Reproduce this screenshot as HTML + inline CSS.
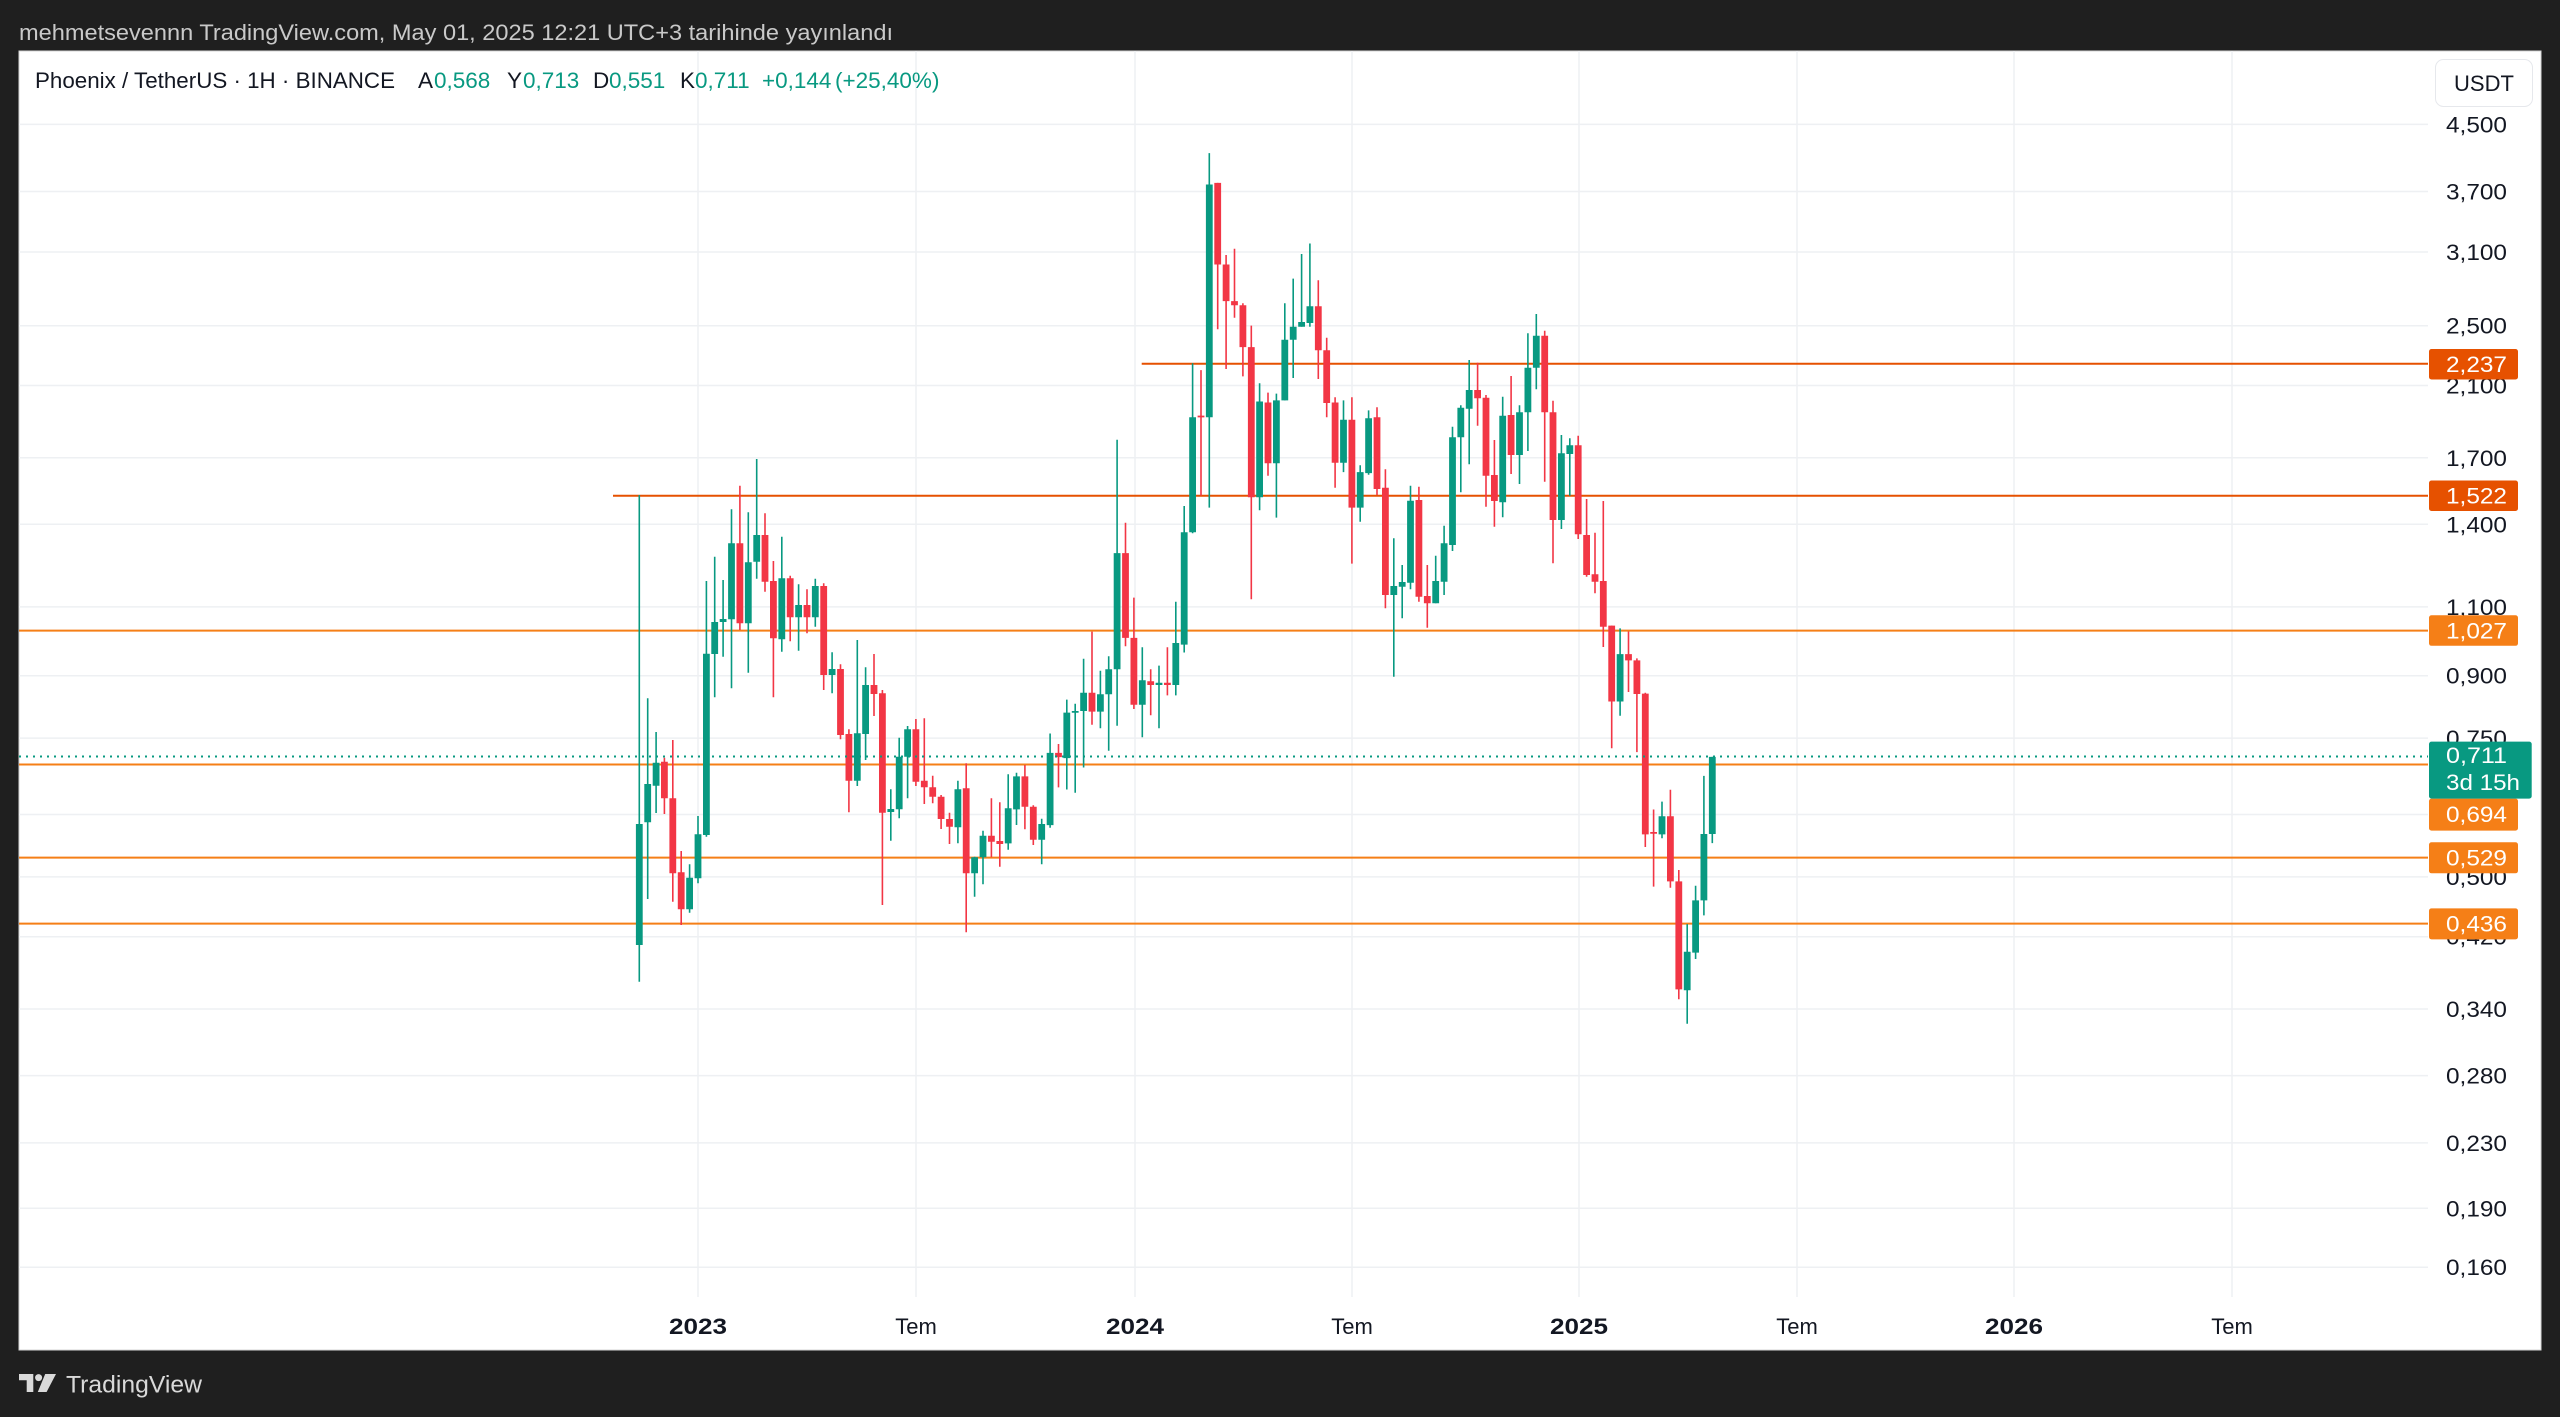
<!DOCTYPE html>
<html><head><meta charset="utf-8"><style>
html,body{margin:0;padding:0;background:#1f1f1f;}
svg{display:block;}
text{font-family:"Liberation Sans",sans-serif;}
</style></head><body>
<svg width="2560" height="1417" viewBox="0 0 2560 1417" xmlns="http://www.w3.org/2000/svg">
<rect width="2560" height="1417" fill="#1f1f1f"/>
<text x="19" y="40" font-size="22" fill="#c9c9c9" textLength="874" lengthAdjust="spacingAndGlyphs">mehmetsevennn TradingView.com, May 01, 2025 12:21 UTC+3 tarihinde yayınlandı</text>
<rect x="19" y="51" width="2522" height="1299" fill="#ffffff" stroke="#d6d6d6" stroke-width="1"/>

<!-- grid -->
<path fill="none" stroke="#eef0f3" stroke-width="1.5" d="M19 124.4H2428M19 191.5H2428M19 252H2428M19 325.7H2428M19 385.5H2428M19 457.8H2428M19 524.3H2428M19 606.9H2428M19 675.7H2428M19 738.1H2428M19 814.5H2428M19 876.9H2428M19 936.7H2428M19 1009H2428M19 1075.6H2428M19 1142.9H2428M19 1208.3H2428M19 1267.2H2428
M698 51V1297M916 51V1297M1135 51V1297M1352 51V1297M1579 51V1297M1797 51V1297M2014 51V1297M2232 51V1297"/>

<!-- title -->
<text y="88" font-size="22.5">
<tspan x="35" fill="#131722" textLength="360" lengthAdjust="spacingAndGlyphs">Phoenix / TetherUS · 1H · BINANCE</tspan>
</text>
<text y="88" font-size="22.5" fill="#131722"><tspan x="418">A</tspan><tspan x="507">Y</tspan><tspan x="593">D</tspan><tspan x="680">K</tspan></text>
<text y="88" font-size="22.5" fill="#089981"><tspan x="434">0,568</tspan><tspan x="523">0,713</tspan><tspan x="609">0,551</tspan><tspan x="695">0,711</tspan><tspan x="762">+0,144</tspan><tspan x="835">(+25,40%)</tspan></text>

<!-- horizontal levels -->
<g stroke-width="2" fill="none">
<path stroke="#E65100" d="M1141.7 363.8H2428M613 495.7H2428"/>
<path stroke="#F57F17" d="M19 630.6H2428M19 764.5H2428M19 857.6H2428M19 923.6H2428"/>
</g>

<!-- candles: green -->
<path fill="none" stroke="#089981" stroke-width="1.6" d="M639.3 495V981.7M647.7 698.3V899M656.1 732V813M689.6 864.3V912.7M698 816V883.3M706.4 581V836.7M714.7 556.7V697.3M723.1 580V656.7M731.5 509.3V688.3M748.3 512.3V672.7M756.7 459V578.7M781.8 536.7V651.7M798.6 584.3V650.7M815.3 578.7V626.7M832.1 652.3V693.3M857.3 640V786M865.6 667.3V760M890.8 789.3V840.7M899.2 737.7V818.3M907.6 726V798.3M957.9 780.7V843.3M974.6 856.7V896.7M983 830.7V884.3M1008.2 774.3V849.7M1016.5 772.8V825M1041.7 818.8V864.3M1050.1 733.5V827.7M1066.8 699.6V789.5M1075.2 703.7V792.7M1083.6 658.8V767.5M1100.4 670.8V728.3M1108.7 656.2V750.8M1117.1 439.7V725.7M1142.3 647.3V737.2M1159 665.6V728.3M1175.8 601.8V695.4M1184.2 506V652.5M1192.6 363.3V533.3M1209.3 153.1V507.6M1259.6 383.2V510.2M1276.4 393.6V517.6M1284.8 303.2V400.4M1293.2 278.6V378M1301.6 254V326.7M1309.9 243.5V326.7M1343.5 400.4V472.1M1360.2 465.3V521.8M1368.6 410.4V474.7M1393.8 538.3V676.7M1402.2 565V618.3M1410.5 485.7V589.3M1435.7 555.7V603.3M1444.1 525.7V595M1452.5 426.7V551M1460.8 405.3V492.3M1469.2 360V464.3M1502.7 396.7V517.3M1519.5 405.3V484M1527.9 333.3V451M1536.3 314V389.3M1561.4 435V529M1569.8 438.3V495.7M1620.1 628.4V715.8M1662 801.6V838.3M1687.2 924.1V1023.8M1695.6 885.8V959M1703.9 775.9V915.4M1712.3 756.9V843.1"/>
<path fill="#089981" d="M635.9 824h6.8V945h-6.8zM644.3 784h6.8V822.3h-6.8zM652.7 762.7h6.8V785.7h-6.8zM686.2 877.7h6.8V909.3h-6.8zM694.6 834.3h6.8V878.3h-6.8zM703 653.7h6.8V835h-6.8zM711.3 622h6.8V654h-6.8zM719.7 619h6.8V622h-6.8zM728.1 543.3h6.8V619.3h-6.8zM744.9 562.3h6.8V623.3h-6.8zM753.3 535h6.8V561.7h-6.8zM778.4 578.3h6.8V639.3h-6.8zM795.2 605h6.8V617.3h-6.8zM811.9 586h6.8V617.3h-6.8zM828.7 669h6.8V675h-6.8zM853.9 733.3h6.8V780.7h-6.8zM862.2 685h6.8V734h-6.8zM887.4 809h6.8V812h-6.8zM895.8 756.7h6.8V809.3h-6.8zM904.2 729.3h6.8V756.7h-6.8zM954.5 789.3h6.8V827.3h-6.8zM971.2 857.3h6.8V873.3h-6.8zM979.6 835.7h6.8V857.3h-6.8zM1004.8 808.3h6.8V843.4h-6.8zM1013.1 776.4h6.8V809.4h-6.8zM1038.3 824h6.8V839.7h-6.8zM1046.7 752.9h6.8V825.1h-6.8zM1063.4 712.6h6.8V758.1h-6.8zM1071.8 711h6.8V712.8h-6.8zM1080.2 692.8h6.8V711h-6.8zM1097 694.3h6.8V711.6h-6.8zM1105.3 669.2h6.8V694.3h-6.8zM1113.7 553.1h6.8V669.2h-6.8zM1138.9 680.2h6.8V704.8h-6.8zM1155.6 682.8h6.8V685h-6.8zM1172.4 643h6.8V685h-6.8zM1180.8 532.2h6.8V644.6h-6.8zM1189.2 417.2h6.8V532.2h-6.8zM1205.9 184.5h6.8V417.2h-6.8zM1256.2 401.5h6.8V497.2h-6.8zM1273 400.4h6.8V463.2h-6.8zM1281.4 339.8h6.8V400.4h-6.8zM1289.8 326.7h6.8V339.8h-6.8zM1298.2 322h6.8V326.7h-6.8zM1306.5 306.3h6.8V323h-6.8zM1340.1 419.8h6.8V462.7h-6.8zM1356.8 472.1h6.8V507.6h-6.8zM1365.2 418.2h6.8V473.1h-6.8zM1390.4 586h6.8V595h-6.8zM1398.8 582h6.8V586.7h-6.8zM1407.1 500.7h6.8V582.7h-6.8zM1432.3 581h6.8V603.3h-6.8zM1440.7 543.3h6.8V581.7h-6.8zM1449.1 437.3h6.8V545h-6.8zM1457.4 407.7h6.8V437.3h-6.8zM1465.8 390h6.8V408.7h-6.8zM1499.3 415.7h6.8V502.3h-6.8zM1516.1 412.3h6.8V455h-6.8zM1524.5 367.7h6.8V412.3h-6.8zM1532.9 335.7h6.8V367.7h-6.8zM1558 453.3h6.8V520h-6.8zM1566.4 445.3h6.8V454h-6.8zM1616.7 654.1h6.8V701.5h-6.8zM1658.6 816.2h6.8V834.4h-6.8zM1683.8 951.8h6.8V990.2h-6.8zM1692.2 900.4h6.8V952.6h-6.8zM1700.5 834h6.8V900.4h-6.8zM1708.9 756.9h6.8V834h-6.8z"/>

<!-- candles: red -->
<path fill="none" stroke="#F23645" stroke-width="1.6" d="M664.4 757.7V814M672.8 740V901.7M681.2 851V925M739.9 485.7V630M765 513.3V591.7M773.4 561V697.3M790.2 575.7V641.3M807 589.3V633.3M823.7 583.3V690M840.5 664.3V739.3M848.9 729.3V812.3M874 654V716M882.4 690V905M915.9 719V786M924.3 718.3V804M932.7 775.7V803.3M941.1 795V829M949.5 812.7V844M966.2 763.3V932.3M991.4 798.3V857.3M999.8 802.3V866.7M1024.9 765V829.3M1033.3 805.2V845M1058.5 744V787.4M1092 631.6V724.7M1125.5 522.8V646.2M1133.9 597.6V709M1150.7 669.2V715.3M1167.4 647.3V695.4M1201 370.1V495.6M1217.7 182.9V329.3M1226.1 255V369M1234.5 248.8V317.8M1242.9 303.2V376.4M1251.3 325.6V599.2M1268 392.6V475.7M1318.3 280.2V379M1326.7 337.7V417.2M1335.1 397.3V487.8M1351.9 397.3V563.6M1377 407.3V495M1385.4 469.3V608.3M1418.9 486.7V601.7M1427.3 565V627.7M1477.6 362.7V425.7M1486 395V506.7M1494.4 440V526.7M1511.1 376V474M1544.7 330.7V481.7M1553 400.7V563.3M1578.2 435.7V539M1586.6 499V576.7M1595 532.7V593.3M1603.3 501V647M1611.7 625.6V748.2M1628.5 631.5V692M1636.9 658.4V752.1M1645.3 692.8V847M1653.6 809.5V886.6M1670.4 789.7V887.8M1678.8 870V999.3"/>
<path fill="#F23645" d="M661 761.7h6.8V798.3h-6.8zM669.4 798.3h6.8V873.3h-6.8zM677.8 872.3h6.8V909.3h-6.8zM736.5 543.3h6.8V623.3h-6.8zM761.6 535h6.8V581.7h-6.8zM770 581h6.8V638.3h-6.8zM786.8 578.3h6.8V617.3h-6.8zM803.6 605h6.8V617.3h-6.8zM820.3 586h6.8V675h-6.8zM837.1 669h6.8V735h-6.8zM845.5 734h6.8V780.7h-6.8zM870.6 685h6.8V694h-6.8zM879 693.3h6.8V812.7h-6.8zM912.5 729.3h6.8V781.7h-6.8zM920.9 780.7h6.8V787.3h-6.8zM929.3 787.3h6.8V796.7h-6.8zM937.7 796.7h6.8V819h-6.8zM946.1 819h6.8V826.7h-6.8zM962.8 788.3h6.8V873.3h-6.8zM988 835.7h6.8V841.7h-6.8zM996.4 841h6.8V844h-6.8zM1021.5 776.4h6.8V806.8h-6.8zM1029.9 806.8h6.8V839.7h-6.8zM1055.1 752.9h6.8V757.1h-6.8zM1088.6 692.8h6.8V711.6h-6.8zM1122.1 553.1h6.8V637.9h-6.8zM1130.5 637.9h6.8V704.8h-6.8zM1147.3 681.3h6.8V685h-6.8zM1164 682.8h6.8V685h-6.8zM1197.6 415.6h6.8V417.4h-6.8zM1214.3 182.9h6.8V264.5h-6.8zM1222.7 264.5h6.8V301.1h-6.8zM1231.1 301.1h6.8V305.3h-6.8zM1239.5 305.3h6.8V347.1h-6.8zM1247.9 347.1h6.8V497.2h-6.8zM1264.6 402.5h6.8V463.2h-6.8zM1314.9 306.3h6.8V350.2h-6.8zM1323.3 350.2h6.8V403h-6.8zM1331.7 402.5h6.8V462.7h-6.8zM1348.5 419.8h6.8V507.6h-6.8zM1373.6 417.3h6.8V489h-6.8zM1382 487.7h6.8V595h-6.8zM1415.5 500h6.8V596.7h-6.8zM1423.9 596h6.8V603.3h-6.8zM1474.2 390h6.8V398.3h-6.8zM1482.6 397.7h6.8V475.7h-6.8zM1491 475h6.8V501h-6.8zM1507.7 415h6.8V455h-6.8zM1541.3 335.7h6.8V412.3h-6.8zM1549.6 412.3h6.8V520h-6.8zM1574.8 445.3h6.8V534.3h-6.8zM1583.2 535h6.8V575h-6.8zM1591.6 574.3h6.8V581.7h-6.8zM1599.9 581h6.8V626.8h-6.8zM1608.3 625.6h6.8V701.5h-6.8zM1625.1 654.1h6.8V660.4h-6.8zM1633.5 660.4h6.8V694h-6.8zM1641.9 693.6h6.8V834.4h-6.8zM1650.2 832h6.8V833.8h-6.8zM1667 816.2h6.8V881.4h-6.8zM1675.4 881.4h6.8V989.4h-6.8z"/>

<!-- current price dotted line -->
<path d="M19 756.5H2428" stroke="#089981" stroke-width="2" stroke-dasharray="2 5" fill="none"/>

<!-- time axis -->
<g font-size="22" fill="#131722" text-anchor="middle">
<text x="698" y="1334" font-weight="bold" textLength="58" lengthAdjust="spacingAndGlyphs">2023</text>
<text x="916" y="1334">Tem</text>
<text x="1135" y="1334" font-weight="bold" textLength="58" lengthAdjust="spacingAndGlyphs">2024</text>
<text x="1352" y="1334">Tem</text>
<text x="1579" y="1334" font-weight="bold" textLength="58" lengthAdjust="spacingAndGlyphs">2025</text>
<text x="1797" y="1334">Tem</text>
<text x="2014" y="1334" font-weight="bold" textLength="58" lengthAdjust="spacingAndGlyphs">2026</text>
<text x="2232" y="1334">Tem</text>
</g>

<!-- price axis -->
<g font-size="22" fill="#131722" text-anchor="end">
<text x="2507" y="132.4" textLength="61" lengthAdjust="spacingAndGlyphs">4,500</text>
<text x="2507" y="199.5" textLength="61" lengthAdjust="spacingAndGlyphs">3,700</text>
<text x="2507" y="260" textLength="61" lengthAdjust="spacingAndGlyphs">3,100</text>
<text x="2507" y="333.7" textLength="61" lengthAdjust="spacingAndGlyphs">2,500</text>
<text x="2507" y="393.5" textLength="61" lengthAdjust="spacingAndGlyphs">2,100</text>
<text x="2507" y="465.8" textLength="61" lengthAdjust="spacingAndGlyphs">1,700</text>
<text x="2507" y="532.3" textLength="61" lengthAdjust="spacingAndGlyphs">1,400</text>
<text x="2507" y="614.9" textLength="61" lengthAdjust="spacingAndGlyphs">1,100</text>
<text x="2507" y="683.7" textLength="61" lengthAdjust="spacingAndGlyphs">0,900</text>
<text x="2507" y="746.1" textLength="61" lengthAdjust="spacingAndGlyphs">0,750</text>
<text x="2507" y="822.5" textLength="61" lengthAdjust="spacingAndGlyphs">0,600</text>
<text x="2507" y="884.9" textLength="61" lengthAdjust="spacingAndGlyphs">0,500</text>
<text x="2507" y="944.7" textLength="61" lengthAdjust="spacingAndGlyphs">0,420</text>
<text x="2507" y="1017" textLength="61" lengthAdjust="spacingAndGlyphs">0,340</text>
<text x="2507" y="1083.6" textLength="61" lengthAdjust="spacingAndGlyphs">0,280</text>
<text x="2507" y="1150.9" textLength="61" lengthAdjust="spacingAndGlyphs">0,230</text>
<text x="2507" y="1216.3" textLength="61" lengthAdjust="spacingAndGlyphs">0,190</text>
<text x="2507" y="1275.2" textLength="61" lengthAdjust="spacingAndGlyphs">0,160</text>
</g>

<!-- USDT box -->
<rect x="2435.5" y="59.5" width="97" height="47" rx="8" fill="#ffffff" stroke="#e6e8ec" stroke-width="1"/>
<text x="2484" y="91" font-size="22" fill="#131722" text-anchor="middle">USDT</text>

<!-- level label boxes -->
<rect x="2429" y="349" width="89" height="30.5" rx="2.5" fill="#E65100"/>
<rect x="2429" y="480.5" width="89" height="30.5" rx="2.5" fill="#E65100"/>
<rect x="2429" y="615.3" width="89" height="30.5" rx="2.5" fill="#F57F17"/>
<rect x="2429" y="798.6" width="89" height="32" rx="2.5" fill="#F57F17"/>
<rect x="2429" y="842.3" width="89" height="31" rx="2.5" fill="#F57F17"/>
<rect x="2429" y="908.4" width="89" height="31" rx="2.5" fill="#F57F17"/>
<rect x="2429" y="741.6" width="102.7" height="57" rx="2.5" fill="#089981"/>
<g font-size="22" fill="#ffffff" text-anchor="end">
<text x="2507" y="372" textLength="61" lengthAdjust="spacingAndGlyphs">2,237</text>
<text x="2507" y="503.5" textLength="61" lengthAdjust="spacingAndGlyphs">1,522</text>
<text x="2507" y="638.5" textLength="61" lengthAdjust="spacingAndGlyphs">1,027</text>
<text x="2507" y="822.2" textLength="61" lengthAdjust="spacingAndGlyphs">0,694</text>
<text x="2507" y="865.5" textLength="61" lengthAdjust="spacingAndGlyphs">0,529</text>
<text x="2507" y="931.7" textLength="61" lengthAdjust="spacingAndGlyphs">0,436</text>
</g>
<text x="2446" y="763" font-size="22" fill="#ffffff" textLength="61" lengthAdjust="spacingAndGlyphs">0,711</text>
<text x="2446" y="790" font-size="22" fill="#ffffff" textLength="74" lengthAdjust="spacingAndGlyphs">3d 15h</text>

<!-- footer logo -->
<g fill="#d9d9d9">
<path d="M19 1374H33.3V1392H26.7V1380.3H19Z"/>
<circle cx="38.6" cy="1377.6" r="3.5"/>
<path d="M45.2 1374H56L46.6 1392H37.8Z"/>
</g>
<text x="66" y="1392.3" font-size="24" fill="#d9d9d9" textLength="136" lengthAdjust="spacingAndGlyphs">TradingView</text>
</svg>
</body></html>
